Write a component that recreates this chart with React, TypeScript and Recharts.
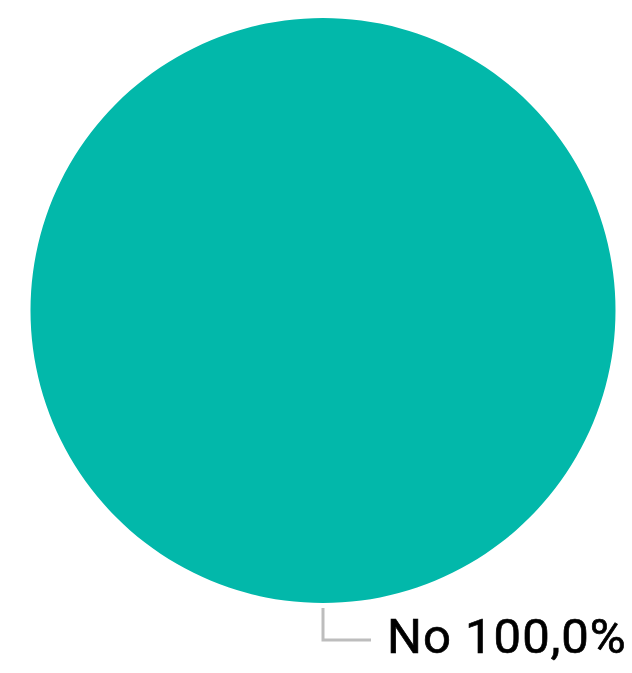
import React from "react";
import { PieChart, Pie, Cell } from "recharts";

const categories = ["No"];
const values = [100];
const labels = ["No 100,0%"];
const colors = ["#02B8AA"];

const data = categories.map((name, i) => ({ name, value: values[i], label: labels[i] }));

const renderLabel = (props: any) => {
  const { cx, cy, outerRadius, index } = props;
  const x0 = cx;
  const y0 = cy + outerRadius + 5;
  const y1 = y0 + 32;
  const x1 = x0 + 48;
  return (
    <g>
      <polyline
        points={`${x0},${y0} ${x0},${y1} ${x1},${y1}`}
        fill="none"
        stroke="#BDBDBD"
        strokeWidth={3}
      />
      <text
        x={x1 + 16}
        y={y1 + 13}
        fill="#000"
        stroke="#000"
        strokeWidth={0.7}
        fontFamily="Roboto, sans-serif"
        fontWeight={400}
        fontSize={49}
        letterSpacing={1}
        textAnchor="start"
      >
        {data[index].label}
      </text>
    </g>
  );
};

export default function App() {
  return (
    <PieChart width={624} height={665} margin={{ top: 0, right: 0, bottom: 0, left: 0 }}>
      <Pie
        data={data}
        dataKey="value"
        nameKey="name"
        cx={315}
        cy={302.5}
        outerRadius={292.5}
        startAngle={90}
        endAngle={-270}
        stroke="none"
        label={renderLabel}
        labelLine={false}
        isAnimationActive={false}
      >
        {data.map((d, i) => (
          <Cell key={d.name} fill={colors[i]} />
        ))}
      </Pie>
    </PieChart>
  );
}
